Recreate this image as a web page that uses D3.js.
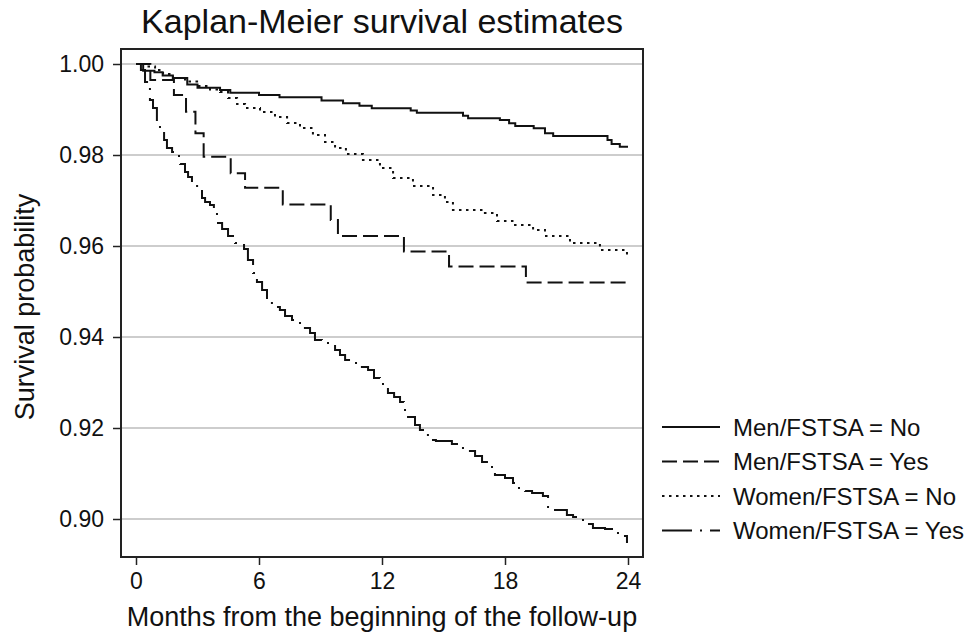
<!DOCTYPE html>
<html lang="en">
<head>
<meta charset="utf-8">
<title>Kaplan-Meier survival estimates</title>
<script src="https://cdnjs.cloudflare.com/ajax/libs/d3/7.8.5/d3.min.js"></script>
<style>
  body { margin: 0; background: #fff; }
  svg text { font-family: "Liberation Sans", Arial, sans-serif; fill: #111; }
  .grid line { stroke: #bdbdbd; stroke-width: 1.3px; }
  .km { fill: none; stroke: #111; stroke-width: 2px; }
</style>
</head>
<body>
<svg id="chart" width="980" height="638"></svg>
<script>

// x ticks (months) and y ticks (survival probability)
var monthTicks = [0, 6, 12, 18, 24];
var probTicks = [0.90, 0.92, 0.94, 0.96, 0.98, 1.00];

// [month, survival] step points
var menNo = [
  [0, 1.000], [0.35, 0.9985], [0.9, 0.9982], [1.3, 0.9975], [1.8, 0.9969],
  [2.5, 0.9955], [3.0, 0.9948], [4.1, 0.9943], [4.6, 0.9937], [6.0, 0.9932],
  [7.0, 0.9927], [9.05, 0.9920], [10.1, 0.9914], [10.9, 0.9908], [11.5, 0.9903],
  [13.4, 0.9898], [13.7, 0.9893], [15.95, 0.9886], [16.2, 0.9881], [17.75, 0.9877],
  [18.2, 0.9870], [18.5, 0.9864], [19.4, 0.9859], [19.95, 0.9848], [20.35, 0.9842],
  [23.0, 0.9833], [23.2, 0.9824], [23.6, 0.9818], [24, 0.9818]
];

var menYes = [
  [0, 1.000], [0.7, 0.9965], [1.85, 0.9932], [2.44, 0.9895], [2.9, 0.9848],
  [3.3, 0.9796], [4.62, 0.9760], [5.32, 0.9728], [7.16, 0.9691], [9.5, 0.9657],
  [9.85, 0.9622], [13.07, 0.9588], [15.27, 0.9555], [19.02, 0.9520], [24, 0.9520]
];

var womenNo = [
  [0, 1.000], [0.44, 0.99945], [0.93, 0.99868], [1.32, 0.9978], [1.8, 0.99692],
  [2.39, 0.99615], [2.98, 0.99516], [3.61, 0.9944], [4.1, 0.99385], [4.49, 0.99253],
  [4.93, 0.99121], [5.32, 0.99033], [6.05, 0.98945], [6.78, 0.98835], [7.37, 0.98703],
  [8.0, 0.98593], [8.63, 0.9844], [9.22, 0.98286], [9.71, 0.98154], [10.24, 0.98022],
  [11.07, 0.9789], [11.9, 0.97714], [12.54, 0.97495], [13.51, 0.97319], [14.49, 0.97121],
  [15.07, 0.96967], [15.46, 0.96791], [17.02, 0.96725], [17.61, 0.96549], [18.49, 0.96462],
  [19.37, 0.96352], [19.95, 0.9622], [21.17, 0.96066], [22.63, 0.95912], [23.95, 0.95736],
  [24, 0.95736]
];

var womenYes = [
  [0, 1.000], [0.24, 0.99868], [0.44, 0.99604], [0.54, 0.99473], [0.68, 0.99209],
  [0.83, 0.99033], [1.02, 0.98725], [1.17, 0.98549], [1.37, 0.9833], [1.51, 0.98154],
  [1.76, 0.98066], [1.9, 0.97978], [2.15, 0.97802], [2.39, 0.97626], [2.54, 0.97516],
  [2.73, 0.97385], [2.98, 0.97231], [3.22, 0.97055], [3.37, 0.96967], [3.61, 0.96901],
  [3.8, 0.96703], [4.0, 0.96505], [4.2, 0.96374], [4.49, 0.9622], [4.83, 0.96066],
  [5.07, 0.96022], [5.27, 0.95934], [5.46, 0.95692], [5.71, 0.95407], [5.9, 0.95209],
  [6.15, 0.95033], [6.39, 0.94769], [6.63, 0.94659], [7.02, 0.94593], [7.27, 0.94462],
  [7.61, 0.94374], [7.9, 0.94308], [8.24, 0.94198], [8.49, 0.94088], [8.73, 0.93934],
  [9.07, 0.93868], [9.46, 0.93846], [9.71, 0.93714], [9.95, 0.93604], [10.2, 0.93495],
  [10.68, 0.93429], [11.02, 0.93341], [11.32, 0.93275], [11.61, 0.93099], [11.9, 0.92967],
  [12.1, 0.92901], [12.29, 0.92769], [12.59, 0.92681], [12.88, 0.92571], [13.07, 0.92396],
  [13.27, 0.92242], [13.61, 0.92066], [13.85, 0.91956], [14.24, 0.91736], [14.63, 0.91714],
  [15.41, 0.91648], [15.9, 0.9156], [16.29, 0.91495], [16.54, 0.91385], [16.88, 0.91253],
  [17.12, 0.91143], [17.51, 0.90967], [18.0, 0.90901], [18.39, 0.90791], [18.63, 0.90681],
  [18.98, 0.90615], [19.32, 0.90571], [19.85, 0.90505], [20.1, 0.90264], [20.44, 0.90198],
  [21.02, 0.90088], [21.32, 0.90044], [21.66, 0.89978], [22.0, 0.8989], [22.29, 0.89802],
  [22.88, 0.8978], [23.22, 0.89692], [23.61, 0.89626], [23.95, 0.89495], [24, 0.89495]
];

var seriesNames = ["Men/FSTSA = No", "Men/FSTSA = Yes", "Women/FSTSA = No", "Women/FSTSA = Yes"];
var seriesData = [menNo, menYes, womenNo, womenYes];
var dashes = ["none", "15 6", "2.5 4.5", "30 8 2 8"];

var svg = d3.select("#chart"),
    box = {left: 121, top: 49, right: 643, bottom: 557};

var x = d3.scaleLinear().domain([0, 24]).range([box.left + 15, box.right - 15]);
var y = d3.scaleLinear().domain([0.90, 1.00]).range([box.bottom - 38, box.top + 15]);

// horizontal grid
svg.append("g").attr("class", "grid")
  .selectAll("line").data(probTicks).enter().append("line")
    .attr("x1", box.left).attr("x2", box.right)
    .attr("y1", function(d) { return y(d); })
    .attr("y2", function(d) { return y(d); });

// curves
var line = d3.line()
    .curve(d3.curveStepAfter)
    .x(function(d) { return x(d[0]); })
    .y(function(d) { return y(d[1]); });

svg.append("g").selectAll("path").data(seriesData).enter().append("path")
    .attr("class", "km")
    .attr("d", line)
    .attr("stroke-dasharray", function(d, i) { return dashes[i]; });

// plot frame
svg.append("rect")
    .attr("x", box.left).attr("y", box.top)
    .attr("width", box.right - box.left).attr("height", box.bottom - box.top)
    .attr("fill", "none").attr("stroke", "#222").attr("stroke-width", 2);

// axes
var yAxis = svg.append("g")
    .attr("transform", "translate(" + box.left + ",0)")
    .call(d3.axisLeft(y).tickValues(probTicks).tickFormat(d3.format(".2f")).tickSize(8).tickPadding(9));
var xAxis = svg.append("g")
    .attr("transform", "translate(0," + box.bottom + ")")
    .call(d3.axisBottom(x).tickValues(monthTicks).tickSize(8).tickPadding(8));

[yAxis, xAxis].forEach(function(a) {
  a.select(".domain").remove();
  a.selectAll(".tick line").attr("stroke", "#222").attr("stroke-width", 1.5);
  a.selectAll("text").style("font-size", "23px").attr("fill", "#111");
});

// titles
svg.append("text")
    .attr("x", (box.left + box.right) / 2).attr("y", 33)
    .attr("text-anchor", "middle").style("font-size", "34px")
    .text("Kaplan-Meier survival estimates");

svg.append("text")
    .attr("x", (box.left + box.right) / 2).attr("y", 626)
    .attr("text-anchor", "middle").style("font-size", "27px")
    .text("Months from the beginning of the follow-up");

svg.append("text")
    .attr("transform", "translate(34," + ((box.top + box.bottom) / 2 + 4) + ") rotate(-90)")
    .attr("text-anchor", "middle").style("font-size", "27px")
    .text("Survival probability");

// legend
var legend = svg.append("g").attr("transform", "translate(662,427)");
var item = legend.selectAll("g").data(seriesNames).enter().append("g")
    .attr("transform", function(d, i) { return "translate(0," + (i * 34.5) + ")"; });
item.append("line")
    .attr("x1", 0).attr("x2", 58)
    .attr("stroke", "#111").attr("stroke-width", 2)
    .attr("stroke-dasharray", function(d, i) { return dashes[i]; });
item.append("text")
    .attr("x", 71).attr("dy", "0.36em")
    .style("font-size", "24px")
    .text(function(d) { return d; });

</script>
</body>
</html>
